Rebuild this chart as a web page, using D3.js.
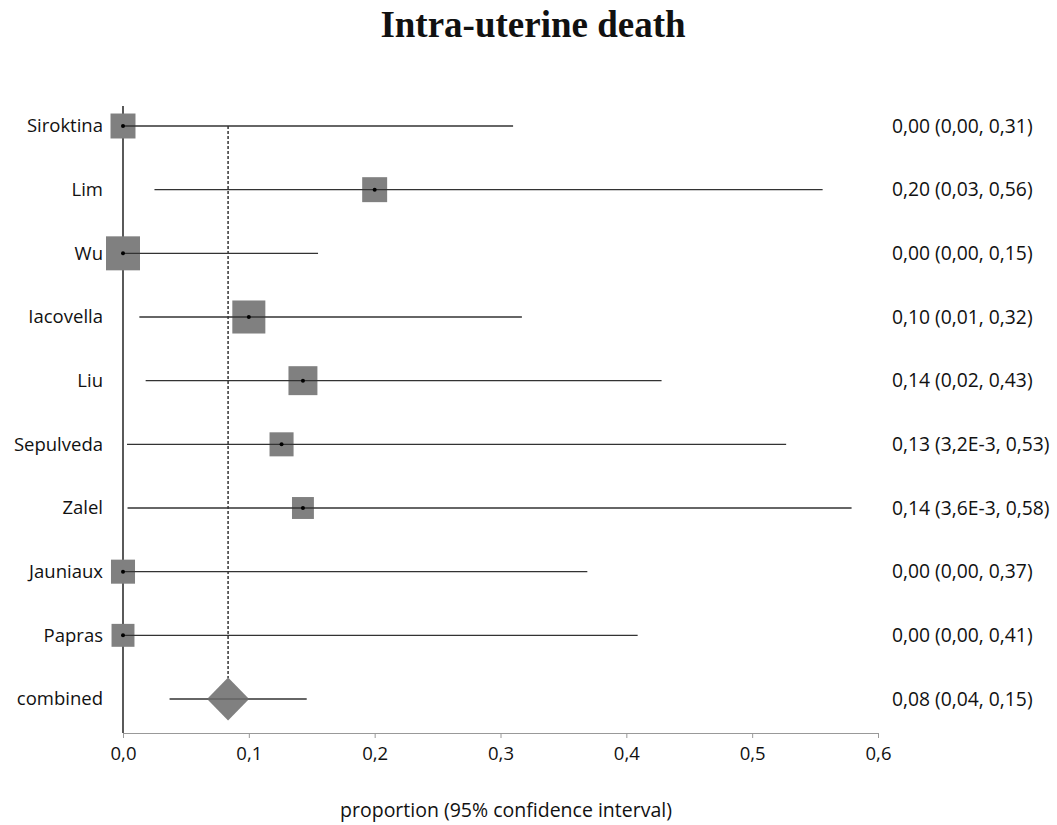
<!DOCTYPE html>
<html>
<head>
<meta charset="utf-8">
<script src="https://cdn.jsdelivr.net/npm/d3@7"></script>
<style>
body { margin: 0; background: #fff; }
text { font-family: "Open Sans", sans-serif; fill: #111; }
</style>
</head>
<body>
<div class="graphic"></div>
<script>
var width = 1057;
var height = 825;

// study data
var studies = ["Siroktina", "Lim", "Wu", "Iacovella", "Liu", "Sepulveda", "Zalel", "Jauniaux", "Papras"];
var estimates = [0.00, 0.20, 0.00, 0.10, 0.143, 0.126, 0.143, 0.00, 0.00];
var lower = [0.00, 0.025, 0.00, 0.013, 0.018, 0.0032, 0.0036, 0.00, 0.00];
var upper = [0.31, 0.556, 0.155, 0.317, 0.428, 0.527, 0.579, 0.369, 0.409];
var weights = [9.6, 9.6, 17.8, 16.8, 12.9, 8.9, 7.4, 8.9, 8.1];
var ciLabels = ["0,00 (0,00, 0,31)", "0,20 (0,03, 0,56)", "0,00 (0,00, 0,15)", "0,10 (0,01, 0,32)",
	"0,14 (0,02, 0,43)", "0,13 (3,2E-3, 0,53)", "0,14 (3,6E-3, 0,58)", "0,00 (0,00, 0,37)", "0,00 (0,00, 0,41)"];

// pooled estimate
var combinedName = "combined";
var combinedEst = 0.0835;
var combinedLow = 0.037;
var combinedHigh = 0.146;
var combinedLabel = "0,08 (0,04, 0,15)";

var xTicks = [0, 0.1, 0.2, 0.3, 0.4, 0.5, 0.6];

var svg = d3.select("div.graphic").append("svg")
	.attr("width", width)
	.attr("height", height);

var x = d3.scaleLinear().domain([0, 0.6]).range([123, 878]);
var y = d3.scalePoint().domain(studies.concat([combinedName])).range([126, 699]);
var side = d3.scaleSqrt().domain([0, d3.max(weights)]).range([0, 34]);
var comma = function(v){ return d3.format(".1f")(v).replace(".", ","); };

var rows = studies.map(function(s, i){
	return {name: s, est: estimates[i], lo: lower[i], hi: upper[i], w: weights[i], label: ciLabels[i]};
});

// title
svg.append("text")
	.attr("x", 533).attr("y", 37)
	.attr("text-anchor", "middle")
	.style("font-family", "'Liberation Serif', 'Times New Roman', serif")
	.style("font-weight", "bold")
	.style("font-size", "37px")
	.text("Intra-uterine death");

// x axis
var axis = svg.append("g")
	.attr("transform", "translate(0,733)")
	.call(d3.axisBottom(x).tickValues(xTicks).tickFormat(comma).tickSize(5).tickSizeOuter(0));
axis.select(".domain").attr("stroke", "#999");
axis.selectAll(".tick line").attr("stroke", "#999");
axis.selectAll(".tick text")
	.attr("dy", "0")
	.attr("y", 27)
	.style("font-size", "18.5px")
	.style("font-family", "'Open Sans', sans-serif")
	.attr("fill", "#111");

svg.append("text")
	.attr("x", 506).attr("y", 817)
	.attr("text-anchor", "middle")
	.style("font-size", "19.5px")
	.text("proportion (95% confidence interval)");

// vertical zero line
svg.append("line")
	.attr("x1", x(0)).attr("x2", x(0))
	.attr("y1", 106).attr("y2", 733)
	.attr("stroke", "#000").attr("stroke-width", 1.3);

// dashed pooled line
svg.append("line")
	.attr("x1", x(combinedEst)).attr("x2", x(combinedEst))
	.attr("y1", y(studies[0])).attr("y2", y(combinedName) - 21)
	.attr("stroke", "#000").attr("stroke-width", 1.2)
	.attr("stroke-dasharray", "3,2");

// squares
svg.append("g").selectAll("rect")
	.data(rows)
	.enter()
	.append("rect")
	.attr("x", function(d){ return x(d.est) - side(d.w) / 2; })
	.attr("y", function(d){ return y(d.name) - side(d.w) / 2; })
	.attr("width", function(d){ return side(d.w); })
	.attr("height", function(d){ return side(d.w); })
	.attr("fill", "#808080");

// whiskers
svg.append("g").selectAll("line")
	.data(rows)
	.enter()
	.append("line")
	.attr("x1", function(d){ return x(d.lo); })
	.attr("x2", function(d){ return x(d.hi); })
	.attr("y1", function(d){ return y(d.name); })
	.attr("y2", function(d){ return y(d.name); })
	.attr("stroke", "#333").attr("stroke-width", 1.3);

// point estimates
svg.append("g").selectAll("circle")
	.data(rows)
	.enter()
	.append("circle")
	.attr("cx", function(d){ return x(d.est); })
	.attr("cy", function(d){ return y(d.name); })
	.attr("r", 2)
	.attr("fill", "#000");

// combined
var cy = y(combinedName);
svg.append("line")
	.attr("x1", x(combinedLow)).attr("x2", x(combinedHigh))
	.attr("y1", cy).attr("y2", cy)
	.attr("stroke", "#333").attr("stroke-width", 1.3);
svg.append("path")
	.attr("d", d3.line()([[x(combinedEst), cy - 21.5], [x(combinedEst) + 21, cy], [x(combinedEst), cy + 21.5], [x(combinedEst) - 21, cy]]) + "Z")
	.attr("fill", "#808080");
svg.append("line")
	.attr("x1", x(combinedEst) - 21).attr("x2", x(combinedEst) + 21)
	.attr("y1", cy).attr("y2", cy)
	.attr("stroke", "#555").attr("stroke-width", 1);

// study names
var allNames = studies.concat([combinedName]);
svg.append("g").selectAll("text")
	.data(allNames)
	.enter()
	.append("text")
	.attr("x", 103)
	.attr("y", function(d){ return y(d); })
	.attr("dy", "0.35em")
	.attr("text-anchor", "end")
	.style("font-size", "18.5px")
	.text(function(d){ return d; });

// estimate labels
svg.append("g").selectAll("text")
	.data(ciLabels.concat([combinedLabel]))
	.enter()
	.append("text")
	.attr("x", 892)
	.attr("y", function(d, i){ return y(allNames[i]); })
	.attr("dy", "0.35em")
	.style("font-size", "19.3px")
	.text(function(d){ return d; });
</script>
</body>
</html>
